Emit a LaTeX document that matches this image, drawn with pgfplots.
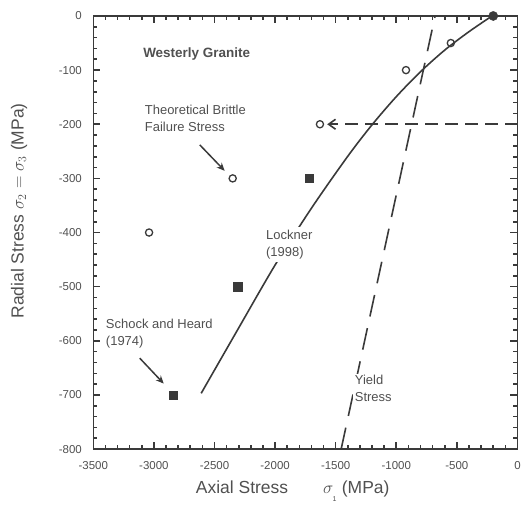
\documentclass[border=0pt]{standalone}
\usepackage{fontspec}
\setmainfont{Liberation Sans}
\usepackage{pgfplots}
\pgfplotsset{compat=1.18}
\usetikzlibrary{arrows.meta}
\definecolor{ink}{HTML}{3A3A3A}
\definecolor{txt}{HTML}{505050}
\begin{document}
\begin{tikzpicture}
\begin{axis}[
  name=ax,
  scale only axis,
  width=425pt, height=434pt,
  xmin=-3500, xmax=0, ymin=-800, ymax=0,
  clip=false,
  axis line style={ink, line width=1.4pt},
  xtick={-3500,-3000,...,0},
  xticklabels={-3500,-3000,-2500,-2000,-1500,-1000,-500,0},
  ytick={-800,-700,...,0},
  yticklabels={-800,-700,-600,-500,-400,-300,-200,-100,0},
  minor x tick num=4, minor y tick num=4,
  major tick length=7pt, minor tick length=4pt,
  every tick/.style={draw=ink, line width=1.6pt},
  tick label style={font=\fontsize{11.5}{13}\selectfont, text=txt},
  xticklabel style={yshift=-9pt},
  yticklabel style={xshift=-8pt},
  label style={font=\fontsize{17.5}{20}\selectfont, text=txt},
  xlabel={Axial Stress\qquad$\sigma_{\raisebox{-5pt}{\scriptsize 1}}$ (MPa)},
  ylabel={Radial Stress $\sigma_{2}=\sigma_{3}$ (MPa)},
  xlabel style={at={(axis description cs:0.47,-0.097)}, anchor=center},
  ylabel style={at={(axis description cs:-0.175,0.55)}, anchor=center},
]
% tick marks drawn inside the box
\pgfplotsinvokeforeach{-3400,-3300,...,-100}{
  \draw[ink, line width=1.6pt] (axis cs:#1,-800) -- ++(0pt,4pt);
  \draw[ink, line width=1.6pt] (axis cs:#1,0) -- ++(0pt,-4pt);}
\pgfplotsinvokeforeach{-3000,-2500,...,-500}{
  \draw[ink, line width=1.6pt] (axis cs:#1,-800) -- ++(0pt,7pt);
  \draw[ink, line width=1.6pt] (axis cs:#1,0) -- ++(0pt,-7pt);}
\pgfplotsinvokeforeach{-780,-760,...,-20}{
  \draw[ink, line width=1.6pt] (axis cs:-3500,#1) -- ++(4pt,0pt);
  \draw[ink, line width=1.6pt] (axis cs:0,#1) -- ++(-4pt,0pt);}
\pgfplotsinvokeforeach{-700,-600,...,-100}{
  \draw[ink, line width=1.6pt] (axis cs:-3500,#1) -- ++(7pt,0pt);
  \draw[ink, line width=1.6pt] (axis cs:0,#1) -- ++(-7pt,0pt);}
% Lockner (1998) curve
\addplot[ink, line width=1.6pt, smooth, tension=0.5] coordinates {
  (-2610,-697) (-2300,-576) (-2000,-460) (-1700,-355) (-1400,-259)
  (-1200,-201) (-1000,-149) (-800,-103) (-600,-63) (-400,-29) (-210,0)};
% yield stress
\addplot[ink, line width=1.6pt, dash pattern=on 22pt off 12pt] coordinates {(-1455,-800) (-680,0)};
% horizontal arrow
\addplot[ink, line width=1.6pt, dash pattern=on 13pt off 7pt, -{Straight Barb[length=7pt,width=10pt]}] coordinates {(0,-200) (-1570,-200)};
% theoretical brittle failure stress
\addplot[only marks, mark=o, mark size=3.6pt, mark options={ink, line width=1.3pt}] coordinates {
  (-550,-50) (-920,-100) (-1630,-200) (-2350,-300) (-3040,-400)};
% Schock and Heard (1974)
\addplot[only marks, mark=square*, mark size=4.2pt, mark options={ink, fill=ink}] coordinates {
  (-1720,-300) (-2310,-500) (-2840,-700)};
\addplot[only marks, mark=*, mark size=4.6pt, mark options={ink, fill=ink}] coordinates {(-200,0)};

\node[anchor=west, text=txt, font=\bfseries\fontsize{13.5}{15}\selectfont] at (axis cs:-3117,-71) {Westerly Granite};
\node[anchor=north west, text=txt, align=left, font=\fontsize{13}{16.5}\selectfont, inner sep=0pt] at (axis cs:-3076,-165) {Theoretical Brittle\\Failure Stress};
\node[anchor=north west, text=txt, align=left, font=\fontsize{13}{16.5}\selectfont, inner sep=0pt] at (axis cs:-3397,-560) {Schock and Heard\\(1974)};
\node[anchor=north west, text=txt, align=left, font=\fontsize{13}{16.5}\selectfont, fill=white, inner sep=3pt] at (axis cs:-2100,-390) {Lockner\\(1998)};
\node[anchor=north west, text=txt, align=left, font=\fontsize{13}{16.5}\selectfont, fill=white, inner sep=2pt] at (axis cs:-1360,-660) {Yield\\Stress};
\draw[ink, line width=1.5pt, -{Stealth[length=8pt,width=7pt]}] (axis cs:-2622,-238) -- (axis cs:-2416,-286);
\draw[ink, line width=1.5pt, -{Stealth[length=8pt,width=7pt]}] (axis cs:-3117,-632) -- (axis cs:-2919,-679);
\end{axis}
\path ([shift={(-93.5pt,-60pt)}]ax.south west) rectangle ([shift={(5.5pt,16pt)}]ax.north east);
\end{tikzpicture}
\end{document}
